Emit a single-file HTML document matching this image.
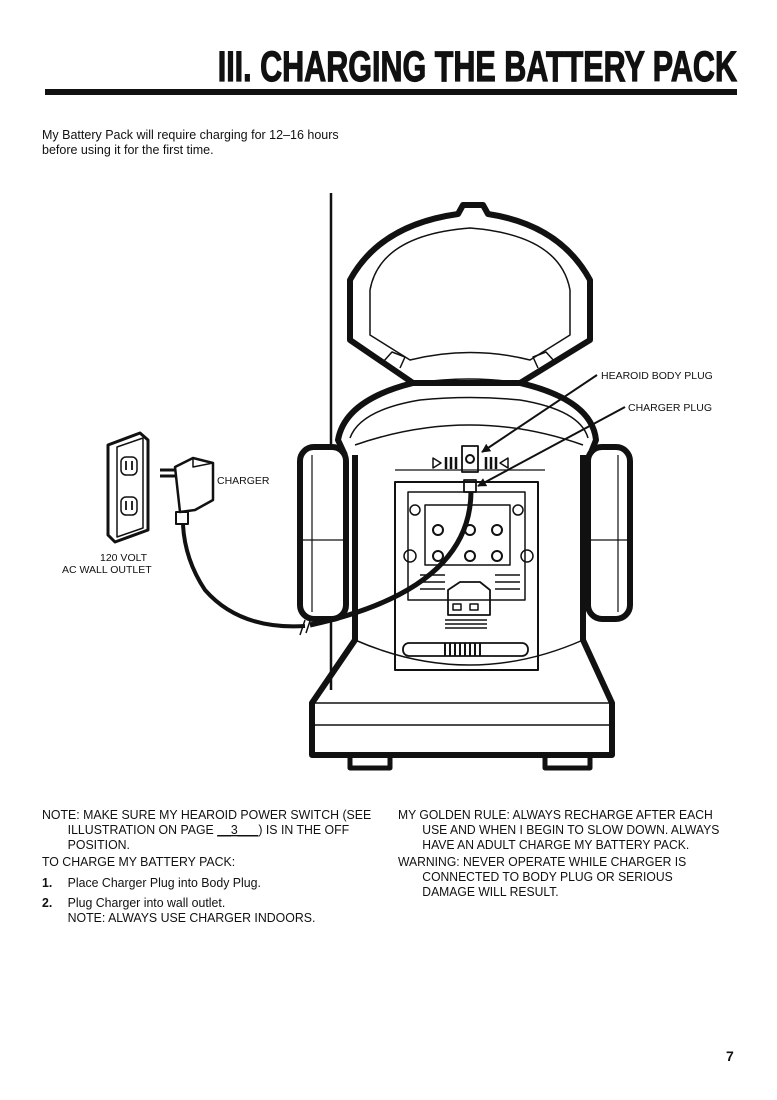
<!DOCTYPE html>
<html><head><meta charset="utf-8"><style>
body{margin:0;background:#fff;}
svg{display:block}
text{font-family:"Liberation Sans",sans-serif;fill:#111}
</style></head><body>
<svg width="777" height="1100" viewBox="0 0 777 1100" xmlns="http://www.w3.org/2000/svg">
<defs><marker id="ah" viewBox="0 0 10 10" refX="9" refY="5" markerWidth="9" markerHeight="9" orient="auto-start-reverse" markerUnits="userSpaceOnUse"><path d="M0,0 L10,5 L0,10 Z" fill="#111"/></marker></defs>
<rect width="777" height="1100" fill="#fff"/>
<text x="737" y="81" text-anchor="end" font-size="43" font-weight="bold" stroke="#111" stroke-width="1.2" transform="translate(737 0) scale(0.71 1) translate(-737 0)">III. CHARGING THE BATTERY PACK</text>
<rect x="45" y="89" width="692" height="6" fill="#111"/>
<g font-size="12.5">
<text x="42" y="139">My Battery Pack will require charging for 12–16 hours</text>
<text x="42" y="154">before using it for the first time.</text>
</g>
<g fill="none" stroke="#111" stroke-linejoin="round">
<line x1="331" y1="193" x2="331" y2="690" stroke-width="2.5"/>
<path d="M463,205 L483,205 L488,214 Q560,225 590,280 L590,340 L520,383 L413,383 L350,340 L350,280 Q380,225 458,214 Z" stroke-width="6" fill="#fff"/>
<path d="M370,290 Q380,235 470,228 Q560,235 570,290 L570,335 L530,360 Q470,345 410,360 L370,335 Z" stroke-width="1.5"/>
<path d="M383,362 L392,352 L405,357 L400,368 M555,362 L546,352 L533,357 L538,368" stroke-width="1.5"/>
<path d="M413,383 Q345,400 338,440 L345,455 M520,383 Q592,400 596,440 L590,455" stroke-width="6"/>
<path d="M350,438 Q360,410 420,400 Q470,395 520,400 Q580,410 588,438" stroke-width="1.5"/>
<path d="M355,445 Q470,405 583,445" stroke-width="1.5"/>
<path d="M415,383 Q470,375 520,383" stroke-width="1.5"/>
<rect x="300" y="447" width="46" height="172" rx="14" stroke-width="6" fill="#fff"/>
<rect x="588" y="447" width="42" height="172" rx="14" stroke-width="6" fill="#fff"/>
<line x1="312" y1="455" x2="312" y2="612" stroke-width="1.2"/>
<line x1="618" y1="455" x2="618" y2="612" stroke-width="1.2"/>
<line x1="302" y1="540" x2="344" y2="540" stroke-width="1.2"/>
<line x1="590" y1="540" x2="628" y2="540" stroke-width="1.2"/>
<path d="M355,455 L355,640 L312,703 L312,755 L612,755 L612,703 L583,640 L583,455" stroke-width="6"/>
<path d="M355,640 Q470,690 583,640" stroke-width="1.5"/>
<line x1="312" y1="725" x2="612" y2="725" stroke-width="1.5"/>
<line x1="312" y1="703" x2="612" y2="703" stroke-width="1.5"/>
<path d="M350,755 L350,768 L390,768 L390,755 M545,755 L545,768 L590,768 L590,755" stroke-width="5"/>
<path d="M395,470 L545,470" stroke-width="1.2"/>
<rect x="395" y="482" width="143" height="188" stroke-width="2"/>
<path d="M408,492 L525,492 L525,600 L408,600 Z" stroke-width="1.5"/>
<path d="M425,505 L510,505 L510,565 L425,565 Z" stroke-width="1.5"/>
<circle cx="438" cy="530" r="5" stroke-width="2"/><circle cx="470" cy="530" r="5" stroke-width="2"/><circle cx="497" cy="530" r="5" stroke-width="2"/>
<circle cx="438" cy="556" r="5" stroke-width="2"/><circle cx="470" cy="556" r="5" stroke-width="2"/><circle cx="497" cy="556" r="5" stroke-width="2"/>
<circle cx="410" cy="556" r="6" stroke-width="1.5"/><circle cx="527" cy="556" r="6" stroke-width="1.5"/>
<circle cx="415" cy="510" r="5" stroke-width="1.5"/><circle cx="518" cy="510" r="5" stroke-width="1.5"/>
<path d="M420,575 L445,575 M420,582 L445,582 M420,589 L445,589 M495,575 L520,575 M495,582 L520,582 M495,589 L520,589" stroke-width="1.5"/>
<path d="M448,615 L448,590 L460,582 L480,582 L490,590 L490,615 Z" stroke-width="1.8"/>
<rect x="453" y="604" width="8" height="6" stroke-width="1.5"/><rect x="470" y="604" width="8" height="6" stroke-width="1.5"/>
<path d="M445,620 L487,620 M445,624 L487,624 M445,628 L487,628" stroke-width="1.5"/>
<rect x="403" y="643" width="125" height="13" rx="6" stroke-width="1.8"/>
<path d="M445,643 L445,656 M450,643 L450,656 M455,643 L455,656 M460,643 L460,656 M465,643 L465,656 M470,643 L470,656 M475,643 L475,656 M480,643 L480,656" stroke-width="2"/>
<rect x="462" y="446" width="16" height="26" stroke-width="1.8"/>
<circle cx="470" cy="459" r="4" stroke-width="2"/>
<path d="M433,458 L441,463 L433,468 Z M508,458 L500,463 L508,468 Z" stroke-width="1.5"/>
<path d="M446,457 L446,469 M451,457 L451,469 M456,457 L456,469 M486,457 L486,469 M491,457 L491,469 M496,457 L496,469" stroke-width="2.5"/>
<rect x="464" y="480" width="12" height="12" stroke-width="1.8"/>
<path d="M471,492 Q470,590 310,625" stroke-width="5"/>
<path d="M305,626 Q240,630 205,590 Q185,560 183,525" stroke-width="4"/>
<path d="M305,620 L300,635 M311,618 L306,633" stroke-width="1.5"/>
<line x1="597" y1="375" x2="482" y2="452" stroke-width="2" marker-end="url(#ah)"/>
<line x1="625" y1="407" x2="478" y2="486" stroke-width="2" marker-end="url(#ah)"/>
<path d="M108,445 L140,433 L148,440 L148,530 L115,542 L108,535 Z" stroke-width="3" fill="#fff"/>
<path d="M117,447 L143,438 L143,528 L117,537 Z" stroke-width="1.5"/>
<rect x="121" y="457" width="16" height="18" rx="5" stroke-width="1.5"/>
<rect x="121" y="497" width="16" height="18" rx="5" stroke-width="1.5"/>
<path d="M126,461 L126,470 M132,461 L132,470 M126,501 L126,510 M132,501 L132,510" stroke-width="1.8"/>
<path d="M160,470 L175,470 M160,476 L175,476" stroke-width="3"/>
<path d="M175,467 L193,458 L213,463 L213,500 L195,510 L180,512 Z" stroke-width="2.5" fill="#fff"/>
<path d="M193,458 L193,467 L213,463" stroke-width="1.5"/>
<rect x="176" y="512" width="12" height="12" stroke-width="2"/>
</g>
<text x="217" y="484" font-size="10.5">CHARGER</text>
<text x="100" y="561" font-size="10.5">120 VOLT</text>
<text x="62" y="573" font-size="10.5">AC WALL OUTLET</text>
<text x="601" y="379" font-size="10.5">HEAROID BODY PLUG</text>
<text x="628" y="411" font-size="10.5">CHARGER PLUG</text>
<g font-size="13">
<g transform="translate(42 0) scale(0.95 1) translate(-42 0)">
<text x="42" y="819">NOTE: MAKE SURE MY HEAROID POWER SWITCH (SEE</text>
<text x="69" y="834">ILLUSTRATION ON PAGE <tspan text-decoration="underline">__3___</tspan>) IS IN THE OFF</text>
<text x="69" y="849">POSITION.</text>
<text x="42" y="866">TO CHARGE MY BATTERY PACK:</text>
<text x="42" y="887" font-weight="bold">1.</text><text x="69" y="887">Place Charger Plug into Body Plug.</text>
<text x="42" y="907" font-weight="bold">2.</text><text x="69" y="907">Plug Charger into wall outlet.</text>
<text x="69" y="922">NOTE: ALWAYS USE CHARGER INDOORS.</text>
</g>
<g transform="translate(398 0) scale(0.935 1) translate(-398 0)">
<text x="398" y="819">MY GOLDEN RULE: ALWAYS RECHARGE AFTER EACH</text>
<text x="424" y="834">USE AND WHEN I BEGIN TO SLOW DOWN. ALWAYS</text>
<text x="424" y="849">HAVE AN ADULT CHARGE MY BATTERY PACK.</text>
<text x="398" y="866">WARNING: NEVER OPERATE WHILE CHARGER IS</text>
<text x="424" y="881">CONNECTED TO BODY PLUG OR SERIOUS</text>
<text x="424" y="896">DAMAGE WILL RESULT.</text>
</g>
</g>
<text x="726" y="1061" font-size="14" font-weight="bold">7</text>
</svg>
</body></html>
